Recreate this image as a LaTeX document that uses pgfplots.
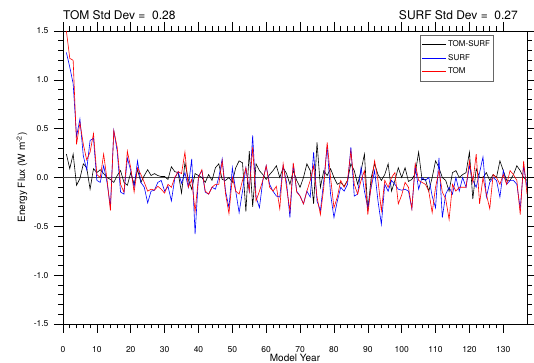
\documentclass[border=0pt]{standalone}
\usepackage{fontspec}
\setmainfont{TeX Gyre Heros}
\usepackage{pgfplots}
\usepackage{pgfplotstable}
\pgfplotsset{compat=1.18}

\pgfplotstableread{
year tom surf diff
1 1.50 1.28 0.24
2 1.22 1.13 0.09
3 1.20 0.96 0.24
4 0.34 0.42 -0.08
5 0.56 0.60 -0.01
6 0.34 0.22 0.14
7 0.18 0.08 0.10
8 0.26 0.38 -0.12
9 0.45 0.40 0.09
10 0.03 -0.03 0.05
11 0.00 -0.05 0.08
12 0.24 0.12 0.04
13 -0.02 -0.05 0.00
14 -0.34 -0.30 -0.02
15 0.48 0.48 -0.05
16 0.31 0.27 0.02
17 -0.07 -0.15 0.07
18 -0.15 -0.17 -0.05
19 0.27 0.20 -0.08
20 0.10 0.07 0.05
21 -0.15 -0.10 -0.07
22 0.10 0.17 0.08
23 0.03 -0.05 -0.05
24 -0.05 -0.10 0.02
25 -0.14 -0.26 0.08
26 -0.12 -0.14 0.02
27 -0.13 -0.13 0.04
28 -0.09 -0.05 0.02
29 -0.12 -0.03 0.01
30 -0.16 -0.14 0.01
31 -0.07 -0.09 -0.02
32 -0.10 -0.24 0.11
33 0.00 -0.01 0.06
34 0.06 0.06 0.05
35 0.04 -0.06 -0.16
36 0.26 0.05 0.15
37 -0.10 -0.10 -0.02
38 -0.02 0.19 -0.12
39 -0.35 -0.58 0.04
40 0.00 0.01 0.02
41 0.08 0.07 0.00
42 -0.14 -0.15 -0.05
43 -0.17 -0.17 0.03
44 -0.10 -0.10 -0.03
45 -0.07 -0.12 0.10
46 -0.07 0.00 0.14
47 0.17 0.19 -0.02
48 -0.17 -0.14 -0.03
49 -0.37 -0.31 0.00
50 0.00 0.10 -0.05
51 -0.14 -0.14 0.10
52 -0.17 -0.36 0.17
53 -0.03 -0.14 0.15
54 0.10 0.10 -0.35
55 -0.14 -0.14 0.27
56 0.31 0.43 -0.30
57 -0.24 -0.20 0.14
58 -0.14 -0.31 0.07
59 -0.03 -0.03 0.03
60 0.12 0.12 -0.02
61 -0.10 -0.07 0.03
62 -0.14 -0.14 0.07
63 -0.09 -0.19 0.12
64 -0.32 -0.20 0.00
65 0.14 0.12 0.10
66 -0.10 -0.05 0.04
67 -0.34 -0.41 -0.07
68 0.15 0.14 0.07
69 -0.15 -0.14 -0.03
70 -0.19 -0.19 -0.10
71 -0.27 -0.27 0.00
72 -0.14 -0.14 0.14
73 -0.03 -0.20 0.07
74 0.12 0.26 -0.27
75 -0.20 -0.24 0.36
76 -0.38 -0.34 -0.10
77 -0.10 -0.03 0.07
78 0.36 0.32 0.02
79 0.00 -0.17 0.09
80 -0.31 -0.41 0.00
81 -0.20 -0.24 -0.07
82 -0.03 -0.10 -0.05
83 -0.10 -0.14 -0.09
84 -0.03 -0.07 -0.03
85 0.27 0.31 0.14
86 -0.07 -0.19 0.07
87 -0.17 -0.17 -0.07
88 -0.03 0.10 0.07
89 0.07 -0.14 0.24
90 -0.38 -0.31 -0.34
91 -0.07 -0.10 0.00
92 0.17 0.07 0.14
93 -0.03 -0.24 0.03
94 -0.34 -0.48 -0.03
95 -0.03 -0.07 0.03
96 -0.10 -0.14 0.14
97 0.00 -0.03 -0.14
98 0.05 -0.07 -0.03
99 -0.27 -0.12 0.10
100 -0.18 -0.13 0.00
101 -0.05 -0.12 0.10
102 -0.10 -0.14 -0.04
103 -0.32 -0.32 -0.02
104 0.14 0.12 0.04
105 -0.03 -0.12 0.26
106 -0.05 0.00 -0.02
107 -0.07 -0.03 -0.02
108 -0.14 0.00 -0.14
109 -0.36 -0.19 0.00
110 -0.10 -0.31 0.17
111 0.07 0.20 0.10
112 -0.15 -0.41 0.00
113 -0.22 -0.17 -0.03
114 -0.43 -0.10 -0.14
115 -0.07 -0.17 0.05
116 -0.14 0.00 0.07
117 -0.10 -0.14 0.00
118 -0.10 0.00 0.03
119 -0.10 -0.10 0.05
120 0.17 0.12 0.26
121 -0.05 -0.03 -0.22
122 0.24 -0.10 0.09
123 -0.27 0.05 0.00
124 0.00 0.21 0.00
125 -0.17 -0.20 0.05
126 -0.32 -0.05 -0.03
127 0.03 0.00 0.03
128 0.00 -0.03 0.00
129 -0.07 -0.20 0.17
130 0.03 0.07 0.07
131 -0.07 -0.07 -0.03
132 0.07 -0.03 -0.03
133 0.03 -0.03 0.03
134 -0.03 -0.07 0.12
135 -0.38 -0.32 0.07
136 0.17 0.12 0.00
137 -0.17 -0.10 -0.03
}\datatable

\begin{document}
\begin{tikzpicture}
\path[use as bounding box, fill=white] (-63pt,-39pt) rectangle (471pt,324pt);
\begin{axis}[
  at={(0,0)}, anchor=south west,
  scale only axis, width=464pt, height=293pt,
  xmin=0, xmax=137, ymin=-1.5, ymax=1.5,
  xtick={0,10,...,130}, minor x tick num=4,
  ytick={-1.5,-1,-0.5,0,0.5,1,1.5}, minor y tick num=4,
  xtick pos=both, ytick pos=both,
  tick align=outside,
  tickwidth=9pt, subtickwidth=4.5pt,
  every tick/.style={black, line width=0.6pt},
  axis line style={black, line width=0.7pt},
  /pgf/number format/assume math mode=true,
  yticklabel style={/pgf/number format/fixed, /pgf/number format/fixed zerofill, /pgf/number format/precision=1},
  ticklabel style={font=\fontsize{8.5}{10}\selectfont},
  xticklabel shift=10pt, yticklabel shift=2pt,
  xlabel={Model Year},
  ylabel={Energy Flux (W m\textsuperscript{-2})},
  label style={font=\fontsize{10}{12}\selectfont},
  xlabel style={at={(axis description cs:0.5,-0.116)}, anchor=center},
  ylabel style={at={(axis description cs:-0.0884,0.5)}, anchor=center},
  legend style={at={(axis description cs:0.769,0.986)}, anchor=north west,
    draw=black!60, line width=0.5pt, font=\fontsize{8}{9}\selectfont,
    inner xsep=2pt, inner ysep=4pt, row sep=3pt, nodes={inner sep=1.5pt}},
  legend cell align=left,
  legend image code/.code={\draw[#1] (0pt,0pt) -- (24pt,0pt);},
]
\addplot[black!70, line width=0.6pt, forget plot] coordinates {(0,0) (137,0)};
\addplot[black, line width=0.6pt] table[x=year, y=diff] {\datatable};
\addlegendentry{TOM-SURF}
\addplot[blue, line width=0.6pt] table[x=year, y=surf] {\datatable};
\addlegendentry{SURF}
\addplot[red, line width=0.6pt] table[x=year, y=tom] {\datatable};
\addlegendentry{TOM}
\end{axis}
\node[anchor=west, font=\fontsize{12}{14}\selectfont, inner sep=0pt] at (0pt,309pt) {TOM Std Dev =\ \ 0.28};
\node[anchor=east, font=\fontsize{12}{14}\selectfont, inner sep=0pt] at (455pt,309pt) {SURF Std Dev =\ \ 0.27};
\end{tikzpicture}
\end{document}
